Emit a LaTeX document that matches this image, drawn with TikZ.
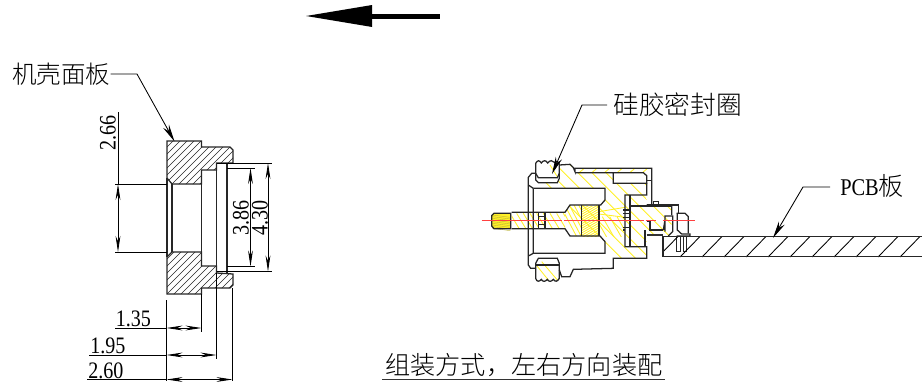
\documentclass[tikz,border=0pt]{standalone}
\usepackage{fontspec}
\setmainfont{Liberation Serif}
\newfontfamily\numf[FakeStretch=0.85]{Liberation Serif}
\newfontfamily\cjk{Noto Sans CJK SC Light}
\usetikzlibrary{arrows.meta}
\definecolor{hy}{RGB}{255,240,40}
\tikzset{
  ln/.style={line width=0.95pt,black!85},
  thinl/.style={line width=0.65pt,black},
  hat/.style={line width=0.35pt,black!85},
  yh/.style={line width=0.65pt,hy},
  dimarr/.style={thinl,{Stealth[length=12pt,width=3.6pt]}-{Stealth[length=12pt,width=3.6pt]}},
  leader/.style={line width=0.65pt,-{Stealth[length=13pt,width=5pt]}},
  num/.style={inner sep=0pt,font=\numf\fontsize{17.7}{17.7}\selectfont},
  cn/.style={inner sep=0pt,font=\cjk\fontsize{18.9}{18.9}\selectfont}
}
\begin{document}
\begin{tikzpicture}[x=0.75pt,y=-0.75pt]
\useasboundingbox (0,0) rectangle (922,382);
% top arrow
\fill (306,16) -- (372,5) -- (372,27) -- cycle;
\fill (372,14) rectangle (440,19);
% ---- left part
\def\upoly{(167,141)--(201.5,141)--(201.5,147)--(230,147)--(233,150)--(233,163)--(216.5,163)--(216.5,170)--(201.5,170)--(201.5,184)--(172,184)--(167,178)--cycle}
\def\lpoly{(167,294)--(201.5,294)--(201.5,288)--(230,288)--(233,285)--(233,274)--(216.5,273)--(216.5,266)--(201.5,266)--(201.5,252)--(172,252)--(167,257)--cycle}
\begin{scope}\clip \upoly;
\foreach \k in {0,...,20}{\draw[hat] (110+7*\k,190)--(110+7*\k+55,135);}
\end{scope}
\begin{scope}\clip \lpoly;
\foreach \k in {0,...,20}{\draw[hat] (112+7*\k,300)--(112+7*\k+55,245);}
\end{scope}
\draw[ln] \upoly; \draw[ln] \lpoly;
\draw[ln] (167,178)--(167,257) (172,184)--(172,252) (201.5,170)--(201.5,266)
 (216.5,163)--(216.5,273) (227,163)--(227,273);
% dims
\coordinate (a1) at (118,112); \coordinate (a2) at (118,184); \coordinate (a3) at (118,252);
\draw[thinl] (a1)--(a2);
\draw[dimarr] (a2)--(a3);
\draw[thinl] (115,184)--(167,184) (115,252)--(167,252);
\node[num,rotate=90] (t266) at (108,133) {2.66};
\coordinate (b1) at (250.5,168); \coordinate (b2) at (250.5,266.5);
\draw[thinl] (227,168)--(255,168) (227,266.5)--(255,266.5) (216.5,163)--(272,163) (216.5,271.5)--(272,271.5);
\draw[dimarr] (b1)--(b2);
\coordinate (c1) at (268,163); \coordinate (c2) at (268,271.5);
\draw[dimarr] (c1)--(c2);
\node[num,rotate=90] (t386) at (241,218) {3.86};
\node[num,rotate=90] (t430) at (260,218) {4.30};
\draw[thinl] (166.5,300)--(166.5,381) (201.5,294)--(201.5,332) (216.5,273)--(216.5,359) (232.5,288)--(232.5,381);
\coordinate (d1) at (166.5,328); \coordinate (d2) at (201.5,328);
\coordinate (e1) at (166.5,355); \coordinate (e2) at (216.5,355);
\coordinate (f1) at (166.5,379.5); \coordinate (f2) at (232.5,379.5);
\draw[thinl] (115,328)--(d1) (89,355)--(e1) (87,379.5)--(f1);
\draw[dimarr] (d1)--(d2); \draw[dimarr] (e1)--(e2); \draw[dimarr] (f1)--(f2);
\node[num,anchor=south west] (t135) at (115.5,327.5) {1.35};
\node[num,anchor=south west] (t195) at (90,354.5) {1.95};
\node[num,anchor=south west] (t260) at (88,379) {2.60};
% ---- connector, in 3x coordinates
\begin{scope}[shift={(470,130)},x=0.25pt,y=-0.25pt]
\begin{scope}
 \clip (175,142)--(185,130)--(197,130)--(197,150)--(205,158)--(262,158)--(268,145)--(268,105)--(300,103)--(315,128)--(430,128)--(430,160)--(530,160)--(530,228)--(605,228)--(605,315)--(530,315)--(530,385)--(430,385)--(430,415)--(310,418)--(300,440)--(275,440)--(268,420)--(268,385)--(205,385)--(197,400)--(197,415)--(182,415)--(175,405)--cycle;
 \foreach \k in {0,...,16}{\draw[yh] (130+42*\k,60)--(130+42*\k+330,390);}
 \fill[white] (175,175) rectangle (190,370);
 \fill[white] (190,175)--(405,175)--(405,210)--(392,225)--(300,225)--(285,247)--(125,247)--(125,296)--(285,296)--(300,318)--(390,318)--(405,335)--(405,370)--(190,370)--cycle;
\end{scope}
% upper hatch
\begin{scope}\clip (315,115) rectangle (545,127);
 \foreach \k in {0,...,6}{\draw[yh] (325+38*\k,130)--(345+38*\k,113);}
\end{scope}
% pin and inner hatch
\begin{scope}\clip (125,250) rectangle (285,296);
 \foreach \k in {0,...,9}{\draw[yh] (120+20*\k,250)--(150+20*\k,300);}
\end{scope}
\begin{scope}\clip (285,247)--(300,225)--(335,225)--(335,318)--(300,318)--(285,296)--cycle;
 \foreach \k in {0,...,5}{\draw[yh] (270+14*\k,225)--(320+14*\k,320);}
\end{scope}
\begin{scope}\clip (335,228) rectangle (387,318);
 \foreach \k in {0,...,22}{\draw[yh] (335,225+7*\k)--(387,195+7*\k);}
\end{scope}
\begin{scope}\clip (387,225) rectangle (465,318);
 \foreach \k in {0,...,6}{\draw[yh] (375+22*\k,260)--(415+22*\k,330);}
 \draw[yh] (387,245)--(465,232) (387,252)--(465,262);
\end{scope}
% tip
\fill[hy] (65,257)--(72,250)--(122,250)--(122,296)--(72,296)--(65,288)--cycle;
\foreach \k in {0,...,8}{\draw[line width=0.3pt,yellow!70!black] (67,255+5*\k)--(121,262+5*\k);}
\draw[ln] (65,257)--(72,250)--(122,250)--(122,296)--(72,296)--(65,288)--cycle;
% o-rings
\draw[yh] (240,105)--(262,140);
\draw[yh] (215,395)--(262,450) (197,403)--(235,450);
\draw[ln] (197,100)..controls (203,90) and (208,90)..(214,99)..controls (220,90) and (228,90)..(233,99)..controls (240,90) and (248,90)..(253,97)..controls (258,92) and (266,94)..(268,103)--(268,130)--(262,143)--(205,143)--(197,130)--cycle;
\draw[ln] (197,130)--(197,150)--(205,158)--(262,158)--(268,145)--(268,130);
\draw[ln] (197,400)--(205,385)--(262,385)--(268,400)--(268,445)..controls (262,456) and (255,456)..(250,448)..controls (244,456) and (236,456)..(232,448)..controls (226,456) and (218,456)..(214,448)..controls (208,456) and (200,456)..(197,445)--cycle;
\draw[ln] (197,405)--(268,405);
% body lines
\draw[ln] (197,130)--(185,130)--(175,142)--(175,405)--(182,415)--(197,415);
\draw[ln] (175,165)--(190,175) (175,378)--(190,370);
\draw[ln] (190,175)--(405,175)--(405,210)--(392,225)--(300,225)--(285,247)--(125,247);
\draw[ln] (190,175)--(190,370)--(405,370)--(405,335)--(390,318)--(300,318)--(285,296)--(125,296);
\draw[ln] (268,105)--(300,103)--(310,113)--(315,125)--(315,115)--(545,115)--(545,225)--(530,225);
\draw[ln] (315,128)--(520,128)--(530,137)--(530,160)--(430,160)--(430,130);
\draw[ln] (530,160)--(530,195)--(480,195)--(465,195)--(465,350)--(530,350)--(530,385)--(430,385)--(430,415)--(310,418)--(300,440)--(275,440)--(268,420);
\draw[ln] (480,195)--(480,350) (530,152)--(545,152) (530,225)--(625,225)--(625,248);
\draw[ln] (335,225)--(335,318) (387,225)--(387,318) (205,247)--(205,296) (225,247)--(225,296) (205,260)--(225,260) (205,284)--(225,284);
\draw[ln] (460,240)--(480,240) (460,250)--(480,250) (460,262)--(480,262) (460,292)--(480,292) (460,300)--(465,300);
\draw[ln] (480,228)--(605,228);
\draw[ln] (550,225)--(550,215)--(565,215)--(565,225);
\draw[ln] (525,300)--(525,350) (530,275)--(540,275)--(540,300)--(580,300);
\draw[line width=1.1pt,black!80] (530,315)--(580,315);
\draw[ln] (585,305)--(585,258)--(608,258)--(608,305)--(595,318) (580,300)--(585,270);
\draw[ln] (620,250)--(645,250)--(655,260)--(655,310);
\draw[ln] (605,228)--(605,255) (622,250)--(622,300)--(635,312)--(660,312)--(660,318)--(620,318);
\draw[ln] (620,318)--(620,365)--(632,365)--(632,318) (640,318)--(640,365)--(650,365)--(650,318);
\coordinate (r1) at (35,272); \coordinate (r2) at (558,272); \coordinate (r3) at (578,272); \coordinate (r4) at (675,272);
\draw[line width=0.6pt,red!75,dash pattern=on 60pt off 1.5pt] (r1)--(r2);
\draw[line width=0.6pt,red!75] (r3)--(r4);
\end{scope}
% PCB
\begin{scope}\clip (663,236.5) rectangle (922,257);
\foreach \k in {-1,...,11}{\draw[thinl] (680+22*\k,257)--(700+22*\k,236.5);}
\end{scope}
\draw[ln] (922,236.5)--(663,236.5)--(663,256.5)--(922,256.5);
% labels & leaders
\node[inner sep=0pt,anchor=west,font=\cjk\fontsize{18.4}{18.4}\selectfont] (ke) at (12,74) {机壳面板};
\coordinate (keb) at (137,74); \coordinate (ket) at (174.5,141.5);
\draw[leader] (ke.east)--(keb)--(ket);
\node[inner sep=0pt,anchor=west,font=\cjk\fontsize{19.3}{19.3}\selectfont] (gui) at (613,105) {硅胶密封圈};
\coordinate (guis) at (607,105); \coordinate (guib) at (582,105); \coordinate (guit) at (552,174);
\draw[leader] (guis)--(guib)--(guit);
\node[inner sep=0pt,anchor=west] (pcb) at (840,186) {\numf\fontsize{18}{18}\selectfont PCB{\cjk\fontsize{18.9}{18.9}\selectfont 板}};
\coordinate (ps) at (830,187); \coordinate (pb) at (803,187); \coordinate (pt) at (773,238);
\draw[leader] (ps)--(pb)--(pt);
\node[cn,anchor=south west] (zu) at (385,377) {组装方式，左右方向装配};
\draw[line width=0.8pt,black!80] (382,379.7)--(665,379.7);
\end{tikzpicture}
\end{document}
